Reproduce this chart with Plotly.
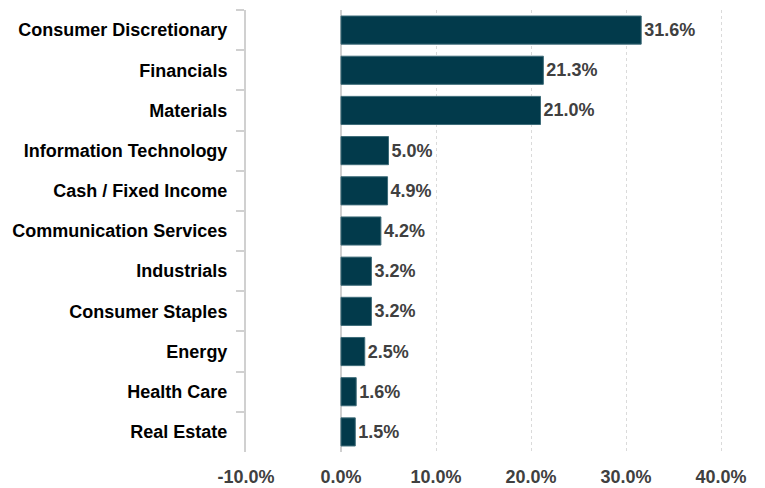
import plotly.graph_objects as go

categories = ["Consumer Discretionary", "Financials", "Materials", "Information Technology",
              "Cash / Fixed Income", "Communication Services", "Industrials", "Consumer Staples",
              "Energy", "Health Care", "Real Estate"]
values = [31.6, 21.3, 21.0, 5.0, 4.9, 4.2, 3.2, 3.2, 2.5, 1.6, 1.5]
labels = [f"{v:.1f}%" for v in values]
tick_vals = [-10, 0, 10, 20, 30, 40]
tick_text = ["-10.0%", "0.0%", "10.0%", "20.0%", "30.0%", "40.0%"]

FONT = "Liberation Sans, Arial, sans-serif"

fig = go.Figure(go.Bar(
    y=categories, x=values, orientation="h",
    marker=dict(color="#023a4b", line=dict(color="#3d6b78", width=1)),
    text=labels, textposition="outside", cliponaxis=False,
    textfont=dict(family=FONT, size=18, color="#404040", weight="bold"),
))

# page body has an 8px margin, so the figure is sized/offset to compensate
fig.update_layout(
    width=757, height=480,
    margin=dict(l=238, r=25, t=2, b=36),
    paper_bgcolor="white", plot_bgcolor="white",
    bargap=0.3, showlegend=False,
)
fig.update_xaxes(
    range=[-10, 42], tickvals=tick_vals, ticktext=tick_text, automargin=False,
    showgrid=True, gridcolor="#dadada", griddash="dot", gridwidth=1,
    zeroline=True, zerolinecolor="#d0d0d0", zerolinewidth=2,
    showline=False, ticks="", ticklabelstandoff=12,
    tickfont=dict(family=FONT, size=18, color="#404040", weight="bold"),
)
fig.update_yaxes(
    autorange="reversed", categoryorder="array", categoryarray=categories, automargin=False,
    showline=True, linecolor="#d0d0d0", linewidth=2,
    ticks="outside", tickson="boundaries", ticklen=8, tickcolor="#d0d0d0", tickwidth=2,
    showgrid=False, ticklabelstandoff=13,
    tickfont=dict(family=FONT, size=18, color="#000000", weight="bold"),
)

fig.write_html("out.html")
